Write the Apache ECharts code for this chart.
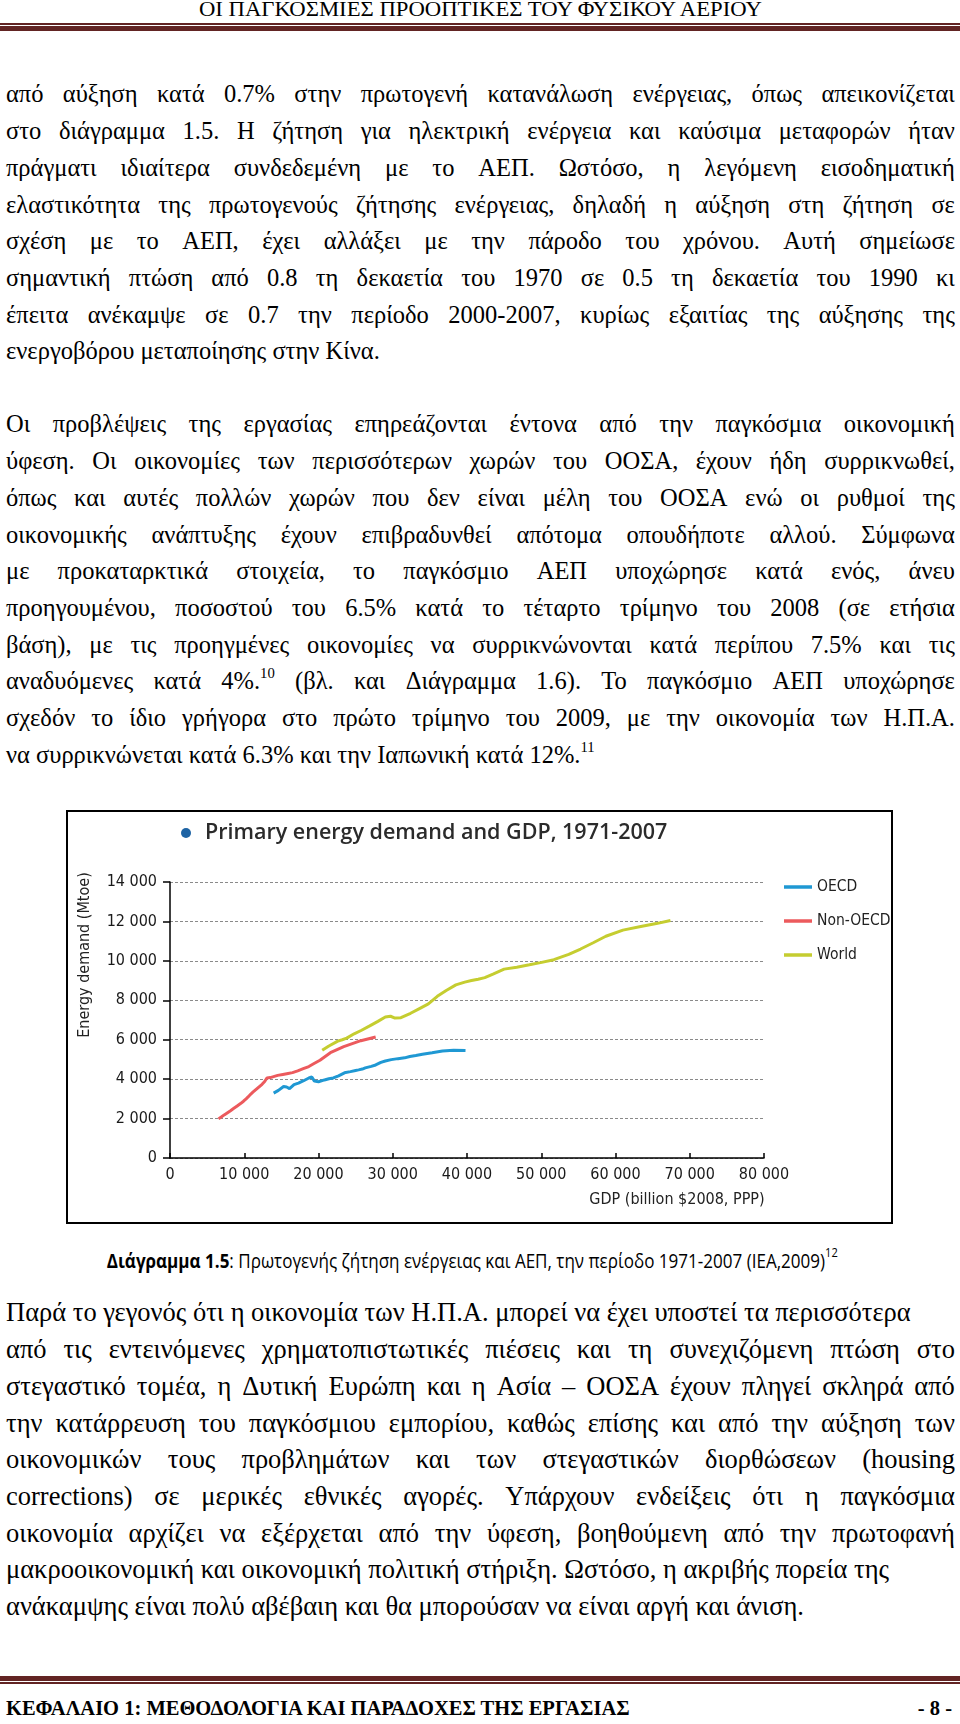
<!DOCTYPE html>
<html><head><meta charset="utf-8">
<script src="https://cdn.jsdelivr.net/npm/echarts@6/dist/echarts.min.js"></script>
<style>
html,body{margin:0;padding:0;background:#fff;}
#page{position:relative;width:960px;height:1724px;overflow:hidden;font-family:"Liberation Serif","Times New Roman",serif;color:#000;}
.ln{position:absolute;left:6px;width:949px;font-size:24.5px;line-height:30px;height:30px;white-space:nowrap;}
.p3{font-size:26.5px;}
.j{display:flex;justify-content:space-between;}
.ln sup{font-size:60%;line-height:0;position:relative;top:-2px;vertical-align:super;}
.hdr{position:absolute;left:0;width:960px;top:-3px;text-align:center;font-size:21px;line-height:24px;white-space:nowrap;}
.rule{position:absolute;left:0;width:960px;background:#622423;}
#cap{position:absolute;left:0;width:960px;text-align:center;font-family:"Open Sans","Noto Sans",sans-serif;font-size:20px;line-height:26px;white-space:nowrap;}
#cap sup{font-size:65%;position:relative;top:-3px;vertical-align:super;line-height:0;}
.foot{position:absolute;font-weight:bold;font-size:20.5px;line-height:24px;white-space:nowrap;}
#chart{position:absolute;left:66px;top:810px;width:827px;height:414px;}
#box{position:absolute;left:66px;top:810px;width:827px;height:414px;box-sizing:border-box;border:2.5px solid #000;pointer-events:none;}
</style>
</head><body>
<div id="page">
  <div class="hdr"><span id="hdrt">ΟΙ ΠΑΓΚΟΣΜΙΕΣ ΠΡΟΟΠΤΙΚΕΣ ΤΟΥ ΦΥΣΙΚΟΥ ΑΕΡΙΟΥ</span></div>
  <div class="rule" style="top:23px;height:1.5px"></div>
  <div class="rule" style="top:26px;height:5px"></div>
  <div id="text"></div>
  <div id="chart"></div>
  <div id="box"></div>
  <div id="cap"><span id="capt"><b>Διάγραμμα 1.5</b>: Πρωτογενής ζήτηση ενέργειας και ΑΕΠ, την περίοδο 1971-2007 (IEA,2009)<sup>12</sup></span></div>
  <div class="rule" style="top:1676px;height:5px"></div>
  <div class="rule" style="top:1682px;height:1.5px"></div>
  <div class="foot" style="left:6px;top:1696px">ΚΕΦΑΛΑΙΟ 1: ΜΕΘΟΔΟΛΟΓΙΑ ΚΑΙ ΠΑΡΑΔΟΧΕΣ ΤΗΣ ΕΡΓΑΣΙΑΣ</div>
  <div class="foot" style="right:8px;top:1696px">- 8 -</div>
</div>
<script>
// ---------- chart data ----------
const seriesNames = ['OECD', 'Non-OECD', 'World'];
const seriesColors = ['#1f98d3', '#ec5a5d', '#c5cd30'];
// [GDP (billion $2008, PPP), energy demand (Mtoe)], one point per year 1971-2007
const oecdPoints = [
  [13960,3290],[14600,3430],[15300,3630],[15700,3600],[16100,3520],[16700,3720],[17300,3800],
  [18000,3920],[18700,4060],[19100,4110],[19450,3900],[19600,3800],[20000,3870],[20800,3960],
  [21400,4020],[22000,4060],[22700,4170],[23500,4320],[24300,4380],[25000,4440],[25400,4470],
  [25900,4510],[26300,4570],[27100,4650],[27700,4720],[28400,4850],[29000,4920],[29800,4990],
  [30700,5040],[31600,5080],[32300,5150],[33100,5200],[34000,5260],[35300,5340],[36700,5430],
  [38200,5460],[39800,5450]
];
const nonOecdPoints = [
  [6530,1985],[6900,2080],[7350,2200],[7750,2300],[8150,2400],[8600,2520],[9050,2640],
  [9500,2760],[9900,2880],[10250,3000],[10550,3110],[10850,3230],[11200,3350],[11600,3480],
  [12000,3610],[12400,3740],[12750,3880],[13050,4060],[13150,4110],[13000,3990],[12950,3960],
  [13200,4020],[13500,4080],[13950,4130],[14500,4190],[15200,4240],[15900,4290],[16500,4330],
  [17200,4420],[17950,4530],[18700,4640],[19400,4790],[20200,4960],[21600,5340],[23400,5650],
  [25700,5950],[27700,6140]
];
const worldPoints = [
  [20500,5460],[21400,5680],[22600,5930],[23200,6000],[23800,6080],[24800,6300],[25800,6480],
  [26900,6700],[28000,6930],[29000,7150],[29700,7190],[30300,7100],[31100,7120],[32400,7340],
  [33600,7580],[34800,7820],[36000,8200],[37200,8500],[38500,8780],[39700,8920],[40600,9000],
  [41500,9070],[42400,9150],[43500,9330],[45000,9580],[46700,9680],[48400,9800],[49900,9910],
  [51700,10060],[53700,10330],[55300,10600],[57000,10920],[58700,11250],[61000,11560],[63400,11740],
  [65500,11890],[67400,12050]
];
const seriesData = [oecdPoints, nonOecdPoints, worldPoints];
const xTickLabels = ['0','10 000','20 000','30 000','40 000','50 000','60 000','70 000','80 000'];
const yTickLabels = ['0','2 000','4 000','6 000','8 000','10 000','12 000','14 000'];
const chartTitle = 'Primary energy demand and GDP, 1971-2007';
const xAxisName = 'GDP (billion $2008, PPP)';
const yAxisName = 'Energy demand (Mtoe)';

// ---------- page text ----------
const para1 = [
 'από αύξηση κατά 0.7% στην πρωτογενή κατανάλωση ενέργειας, όπως απεικονίζεται',
 'στο διάγραμμα 1.5. Η ζήτηση για ηλεκτρική ενέργεια και καύσιμα μεταφορών ήταν',
 'πράγματι ιδιαίτερα συνδεδεμένη με το ΑΕΠ. Ωστόσο, η λεγόμενη εισοδηματική',
 'ελαστικότητα της πρωτογενούς ζήτησης ενέργειας, δηλαδή η αύξηση στη ζήτηση σε',
 'σχέση με το ΑΕΠ, έχει αλλάξει με την πάροδο του χρόνου. Αυτή σημείωσε',
 'σημαντική πτώση από 0.8 τη δεκαετία του 1970 σε 0.5 τη δεκαετία του 1990 κι',
 'έπειτα ανέκαμψε σε 0.7 την περίοδο 2000-2007, κυρίως εξαιτίας της αύξησης της',
 '*ενεργοβόρου μεταποίησης στην Κίνα.'
];
const para2 = [
 'Οι προβλέψεις της εργασίας επηρεάζονται έντονα από την παγκόσμια οικονομική',
 'ύφεση. Οι οικονομίες των περισσότερων χωρών του ΟΟΣΑ, έχουν ήδη συρρικνωθεί,',
 'όπως και αυτές πολλών χωρών που δεν είναι μέλη του ΟΟΣΑ ενώ οι ρυθμοί της',
 'οικονομικής ανάπτυξης έχουν επιβραδυνθεί απότομα οπουδήποτε αλλού. Σύμφωνα',
 'με προκαταρκτικά στοιχεία, το παγκόσμιο ΑΕΠ υποχώρησε κατά ενός, άνευ',
 'προηγουμένου, ποσοστού του 6.5% κατά το τέταρτο τρίμηνο του 2008 (σε ετήσια',
 'βάση), με τις προηγμένες οικονομίες να συρρικνώνονται κατά περίπου 7.5% και τις',
 'αναδυόμενες κατά 4%.<sup>10</sup> (βλ. και Διάγραμμα 1.6). Το παγκόσμιο ΑΕΠ υποχώρησε',
 'σχεδόν το ίδιο γρήγορα στο πρώτο τρίμηνο του 2009, με την οικονομία των Η.Π.Α.',
 '*να συρρικνώνεται κατά 6.3% και την Ιαπωνική κατά 12%.<sup>11</sup>'
];
const para3 = [
 '*Παρά το γεγονός ότι η οικονομία των Η.Π.Α. μπορεί να έχει υποστεί τα περισσότερα',
 'από τις εντεινόμενες χρηματοπιστωτικές πιέσεις και τη συνεχιζόμενη πτώση στο',
 'στεγαστικό τομέα, η Δυτική Ευρώπη και η Ασία – ΟΟΣΑ έχουν πληγεί σκληρά από',
 'την κατάρρευση του παγκόσμιου εμπορίου, καθώς επίσης και από την αύξηση των',
 'οικονομικών τους προβλημάτων και των στεγαστικών διορθώσεων (housing',
 'corrections) σε μερικές εθνικές αγορές. Υπάρχουν ενδείξεις ότι η παγκόσμια',
 'οικονομία αρχίζει να εξέρχεται από την ύφεση, βοηθούμενη από την πρωτοφανή',
 '*μακροοικονομική και οικονομική πολιτική στήριξη. Ωστόσο, η ακριβής πορεία της',
 '*ανάκαμψης είναι πολύ αβέβαιη και θα μπορούσαν να είναι αργή και άνιση.'
];
const LINE = 36.7, XC = 17.6;
function addPara(lines, firstCenter, cls) {
  const host = document.getElementById('text');
  lines.forEach((s, i) => {
    const d = document.createElement('div');
    d.className = 'ln' + (cls ? ' ' + cls : '');
    d.style.top = (firstCenter + i * LINE - XC) + 'px';
    if (s[0] === '*') { d.innerHTML = s.slice(1); }
    else {
      d.classList.add('j');
      s.split(' ').forEach(w => { const sp = document.createElement('span'); sp.innerHTML = w; d.appendChild(sp); });
    }
    host.appendChild(d);
  });
}
addPara(para1, 97);
addPara(para2, 427);
addPara(para3, 1315, 'p3');
function fitWidth(id, target) {
  const t = document.getElementById(id);
  t.style.display = 'inline-block';
  const w = t.getBoundingClientRect().width;
  t.style.transform = 'scaleX(' + (target / w) + ')';
}
fitWidth('hdrt', 563);
const cap = document.getElementById('cap');
cap.style.top = (1261 - 13) + 'px';
cap.style.left = '-8px';
fitWidth('capt', 731);

// ---------- chart ----------
const NARROW = '"Liberation Sans Narrow","Arial Narrow","DejaVu Sans Condensed",sans-serif';
const chart = echarts.init(document.getElementById('chart'), null, {renderer: 'canvas'});
chart.setOption({
  animation: false,
  backgroundColor: '#fff',
  textStyle: {fontFamily: NARROW},
  graphic: [
    {type: 'circle', shape: {cx: 120, cy: 23, r: 5}, style: {fill: '#1d63a4'}},
    {type: 'text', x: 139, y: 23, style: {text: chartTitle, font: '600 21.5px "Open Sans"', fill: '#2b2b2b', verticalAlign: 'middle'}},
    {type: 'text', x: 19, y: 145, rotation: Math.PI / 2, style: {text: yAxisName, font: '16px ' + NARROW, fill: '#222', align: 'center', verticalAlign: 'middle'}},
    {type: 'text', x: 611, y: 390, style: {text: xAxisName, font: '16px ' + NARROW, fill: '#222', align: 'center', verticalAlign: 'middle'}}
  ],
  legend: {
    orient: 'vertical', left: 713, top: 62, itemWidth: 28, itemHeight: 3.5, itemGap: 14,
    icon: 'rect',
    data: seriesNames,
    textStyle: {fontFamily: NARROW, fontSize: 15.5, color: '#222', lineHeight: 20}
  },
  grid: {left: 104, right: 129, top: 72, bottom: 66},
  xAxis: {
    type: 'value', min: 0, max: 80000, interval: 10000,
    axisLine: {show: true, onZero: false, lineStyle: {color: '#000', width: 1.5}},
    axisTick: {show: true, inside: true, length: 5, lineStyle: {color: '#000', width: 1.5}},
    axisLabel: {margin: 9, fontSize: 16, color: '#1a1a1a', fontFamily: NARROW,
      formatter: v => xTickLabels[Math.round(v / 10000)]},
    splitLine: {show: false}
  },
  yAxis: {
    type: 'value', min: 0, max: 14000, interval: 2000,
    axisLine: {show: true, lineStyle: {color: '#000', width: 1.5}},
    axisTick: {show: true, length: 7, lineStyle: {color: '#000', width: 1.5}},
    axisLabel: {margin: 13, fontSize: 16, color: '#1a1a1a', fontFamily: NARROW,
      formatter: v => yTickLabels[Math.round(v / 2000)]},
    splitLine: {show: true, lineStyle: {color: '#8a8a8a', width: 1, type: [3, 2]}}
  },
  series: seriesNames.map((n, i) => ({
    type: 'line', name: n, data: seriesData[i], showSymbol: false, symbol: 'none',
    lineStyle: {width: 3, color: seriesColors[i]}, itemStyle: {color: seriesColors[i]}, z: 3 + i
  }))
});
</script>
</body></html>
